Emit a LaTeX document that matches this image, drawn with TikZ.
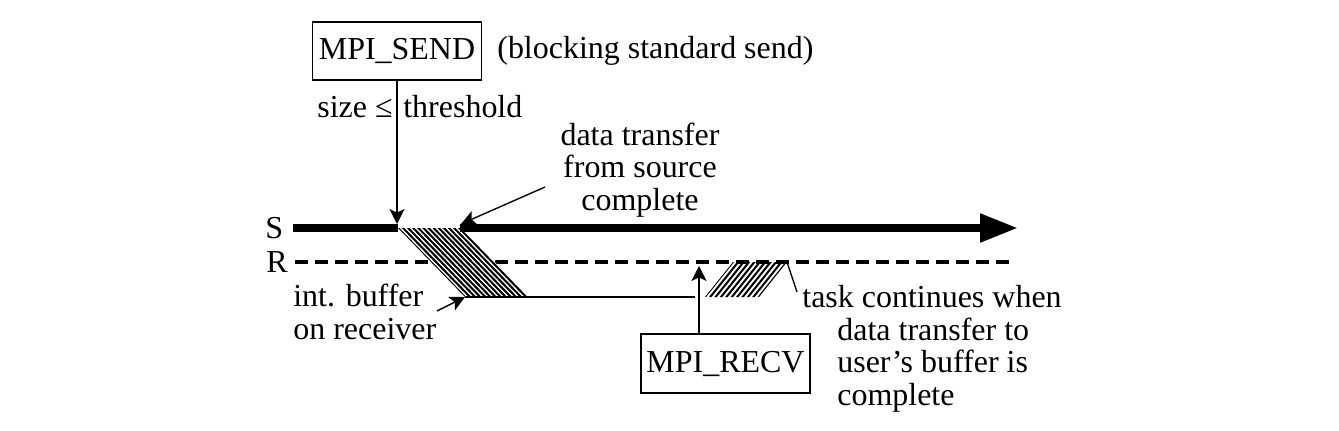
\documentclass[tikz,border=0pt]{standalone}
\usepackage{fontspec}
\setmainfont{Liberation Serif}
\usetikzlibrary{arrows.meta}

\begin{document}
\begin{tikzpicture}[x=0.02cm, y=-0.02cm,
    txt/.style={font=\fontsize{18.2}{18.4}\selectfont, inner sep=0pt},
    procbox/.style={txt, draw, line width=0.9pt, minimum width=3.38cm, minimum height=1.17cm},
    thin/.style={line width=0.8pt},
    smalltip/.style={thin, -{Stealth[length=8.5pt, width=8.5pt, inset=2pt]}},
    hatch/.style={line width=1.15pt}]
\useasboundingbox (0,0) rectangle (1339,430);

% Time lines of sender and receiver
\coordinate (sstart) at (293,228);
\coordinate (sbreak) at (398,228);
\coordinate (sresume) at (460,228);
\coordinate (send) at (1018,228);
\coordinate (rstart) at (295,262);
\coordinate (rend) at (1012,262);

% Hit points of the arrows
\coordinate (sendhit) at (397,224);
\coordinate (recvhit) at (699,266);
\coordinate (dttip) at (461,224);
\coordinate (dtfrom) at (545,187);
\coordinate (bufcorner) at (465,297);
\coordinate (ibfrom) at (437,311);
\coordinate (bufend) at (695,297);
\coordinate (copytop) at (787,262);
\coordinate (taskpt) at (797,292);

% Copy into the user's buffer
\begin{scope}
\clip (705,297) -- (733,262) -- (copytop) -- (759,297) -- cycle;
\foreach \i in {-1,...,11}
    \draw[hatch] (700+\i*5.4,303) -- ++(40,-50);
\end{scope}

% Receiver line
\draw[line width=2.8pt, dash pattern=on 7.4pt off 4pt] (rstart) -- (rend);

% Transfer into the internal buffer
\fill[white] (sbreak) -- (sresume) -- (530,297) -- (bufcorner) -- cycle;
\begin{scope}
\clip (sbreak) -- (sresume) -- (530,297) -- (bufcorner) -- cycle;
\foreach \i in {0,...,12}
    \draw[hatch] (394.1+\i*5.1,224) -- ++(77,79.3);
\end{scope}

% Sender line
\draw[line width=4.5pt] (sstart) -- (sbreak);
\draw[line width=4.5pt, -{Triangle[length=21.6pt, width=15.4pt]}] (sresume) -- (send);
\draw[thin] (bufcorner) -- (bufend);

% Labels of the lines
\node[txt, anchor=base west] (slbl) at (265,238) {S};
\node[txt, anchor=base west] (rlbl) at (266,272) {R};

% Calls
\node[procbox] (sendbox) at (397,51) {MPI\_SEND};
\node[txt, anchor=base west] (sendnote) at (497,58) {(blocking standard send)};
\node[procbox] (recvbox) at (725.5,363.5) {MPI\_RECV};

\draw[smalltip] (sendbox.south) -- (sendhit);
\draw[smalltip] (recvbox.north -| recvhit) -- (recvhit);

\node[txt, anchor=base east] (sizelbl) at (393,117) {size ≤};
\node[txt, anchor=base west] (thrlbl) at (403,117) {threshold};

% Notes
\node[txt, align=center] (dtnote) at (640,170) {data transfer\\from source\\complete};
\draw[smalltip] (dtfrom) -- (dttip);

\node[txt, align=left, anchor=west] (ibnote) at (293,312) {int. buffer\\on receiver};
\draw[smalltip] (ibfrom) -- (bufcorner);

\node[txt, anchor=base west] (tasknote) at (802,307) {task continues when};
\node[txt, align=left, anchor=west] (tasknote2) at (837,365) {data transfer to\\user's buffer is\\complete};
\draw[thin] (copytop) -- (taskpt);
\end{tikzpicture}
\end{document}
